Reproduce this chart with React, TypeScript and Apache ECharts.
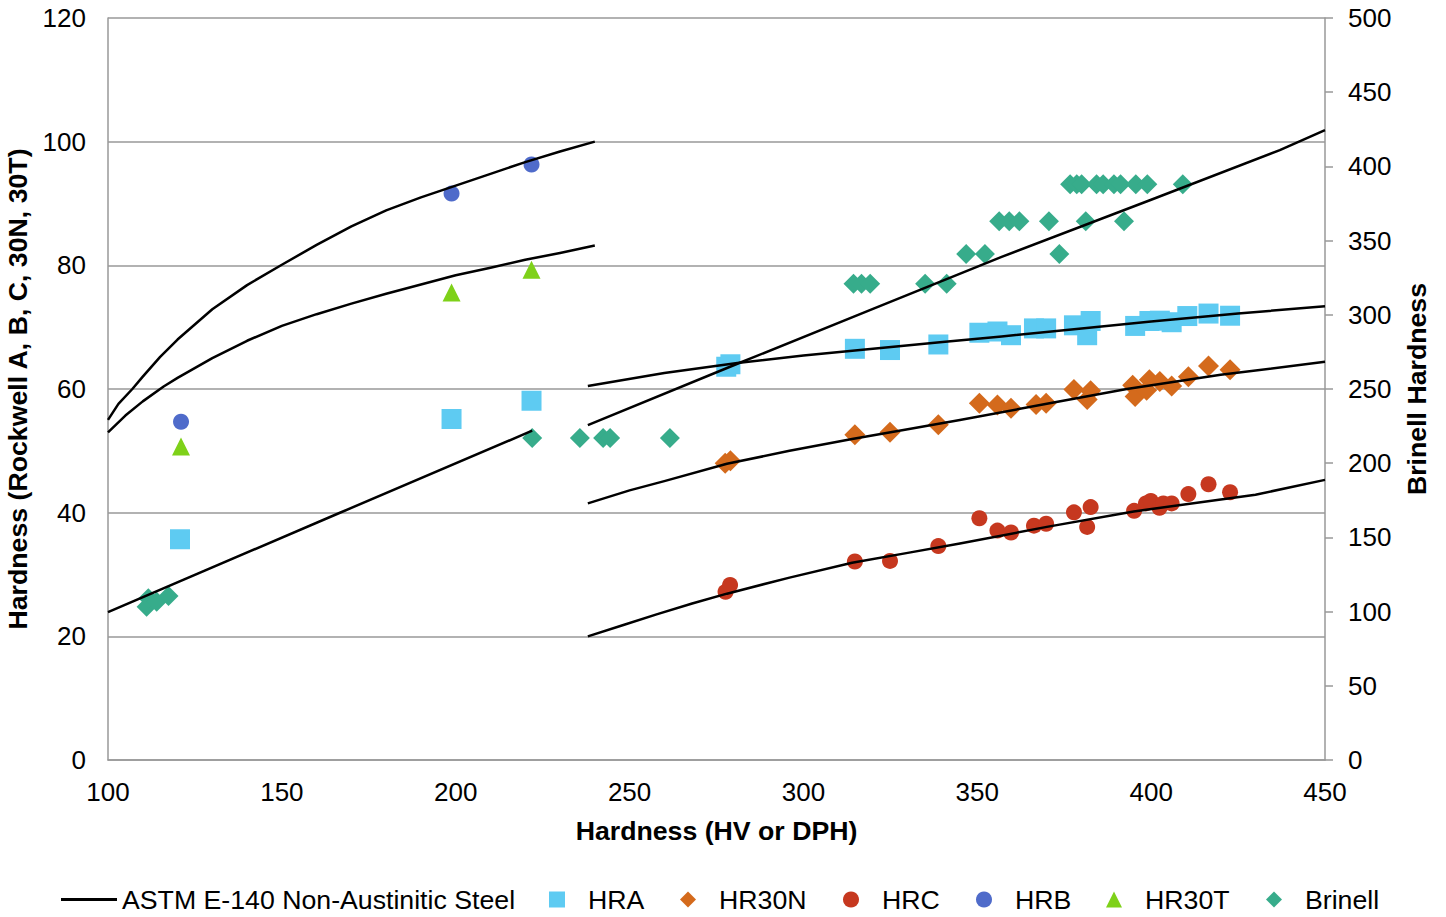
import React, { useEffect, useRef } from "react";
import * as echarts from "echarts";

// ---- Axis ticks ----
const xMin = 100, xMax = 450, xStep = 50;
const leftMin = 0, leftMax = 120, leftStep = 20;
const rightMin = 0, rightMax = 500, rightStep = 50;

// ---- Scatter data (HV vs value) ----
const hraHV = [120.7, 198.8, 221.8, 277.8, 279, 314.8, 324.9, 338.8, 350.6, 355.8, 359.7, 366.3, 369.8, 377.8, 382.6, 381.6, 395.4, 399.5, 402.5, 405.9, 410.4, 416.5, 422.7];
const hraValues = [35.7, 55.15, 58.1, 63.6, 64.0, 66.5, 66.3, 67.2, 69.1, 69.3, 68.7, 69.8, 69.8, 70.3, 71.0, 68.7, 70.2, 71.0, 71.05, 70.8, 71.8, 72.2, 71.85];

const hr30nHV = [277.5, 279, 314.8, 324.9, 338.8, 350.6, 355.8, 359.7, 366.9, 369.8, 377.8, 382.6, 381.6, 394.7, 395.4, 399.5, 398.7, 402.5, 405.9, 410.7, 416.5, 422.7];
const hr30nValues = [48.0, 48.4, 52.6, 53.0, 54.2, 57.7, 57.4, 56.9, 57.5, 57.7, 59.9, 59.7, 58.3, 60.6, 58.8, 61.5, 59.8, 61.2, 60.5, 62.0, 63.7, 63.1];

const hrcHV = [277.6, 278.9, 314.8, 324.9, 338.8, 350.6, 355.8, 359.7, 366.3, 369.8, 377.8, 382.6, 381.6, 395.1, 398.5, 399.9, 402.4, 403.5, 405.9, 410.7, 416.5, 422.7];
const hrcValues = [27.2, 28.3, 32.1, 32.2, 34.6, 39.1, 37.1, 36.8, 37.9, 38.2, 40.05, 40.9, 37.7, 40.3, 41.5, 41.9, 40.8, 41.5, 41.5, 43.0, 44.6, 43.3];

const hrbHV = [121, 198.8, 221.8];
const hrbValues = [54.7, 91.6, 96.3];

const hr30tHV = [121, 198.8, 221.8];
const hr30tValues = [50.7, 75.6, 79.3];

const brinellHV = [111.1, 111.6, 114.0, 117.4, 222.0, 235.7, 242.4, 244.4, 261.6, 314.4, 316.7, 319.2, 335.0, 341.2, 346.8, 352.2, 356.3, 359.2, 362.1, 370.6, 373.6, 381.2, 392.2, 376.7, 378.6, 380.0, 384.3, 386.2, 389.3, 391.2, 395.6, 398.9, 409.1];
const brinellValues = [103.3, 109, 106.7, 110.5, 217, 217, 217, 217, 217, 321, 321, 321, 321, 321, 341, 341, 363, 363, 363, 363, 341, 363, 363, 388, 388, 388, 388, 388, 388, 388, 388, 388, 388];

// ---- ASTM E-140 curves ----
const curveHrbHV = [100, 103, 107, 110, 115, 120, 130, 140, 150, 160, 170, 180, 190, 200, 210, 220, 230, 240];
const curveHrbValues = [55, 57.6, 60, 62, 65.2, 68, 72.9, 76.8, 80.1, 83.3, 86.3, 88.9, 91, 92.9, 94.8, 96.7, 98.4, 100];

const curveHr30tHV = [100, 105, 110, 116, 120, 130, 140, 150, 160, 170, 180, 190, 200, 210, 220, 230, 240];
const curveHr30tValues = [53, 55.7, 58, 60.4, 61.8, 65, 67.8, 70.2, 72.1, 73.8, 75.4, 76.9, 78.4, 79.6, 80.9, 82.0, 83.2];

const curveBrinellLowHV = [100, 166.7, 222];
const curveBrinellLowValues = [99.7, 166.6, 221.9];

const curveBrinellHighHV = [238, 281, 320, 357, 400, 437, 450];
const curveBrinellHighValues = [225.7, 267, 304, 339, 377.5, 411, 424.5];

const curveHraHV = [238, 260, 281, 300, 320, 340, 357, 380, 400, 425, 450];
const curveHraValues = [60.5, 62.6, 64.2, 65.4, 66.5, 67.6, 68.5, 69.8, 70.9, 72.2, 73.4];

const curveHr30nHV = [238, 250, 260, 278, 296, 314, 330, 345, 370, 393, 420, 450];
const curveHr30nValues = [41.5, 43.6, 45.1, 47.9, 50.0, 51.9, 53.5, 55.0, 57.6, 60.0, 62.3, 64.4];

const curveHrcHV = [238, 248, 258, 268, 278, 296, 314, 330, 345, 370, 395, 430, 450];
const curveHrcValues = [20, 21.8, 23.6, 25.3, 26.9, 29.5, 31.9, 33.5, 35, 37.7, 40.2, 42.9, 45.3];

const LINE_NAME = "ASTM E-140 Non-Austinitic Steel";
const FONT = "'Liberation Sans', Arial, sans-serif";
const GRAY = "#999999";

const zip = (xs: number[], ys: number[]) => xs.map((x, i) => [x, ys[i]]);

export default function App() {
  const ref = useRef<HTMLDivElement>(null);
  useEffect(() => {
    if (!ref.current) return;
    const chart = echarts.init(ref.current, undefined, { renderer: "svg" });

    const curves = [
      { hv: curveHrbHV, v: curveHrbValues, axis: 0 },
      { hv: curveHr30tHV, v: curveHr30tValues, axis: 0 },
      { hv: curveBrinellLowHV, v: curveBrinellLowValues, axis: 1 },
      { hv: curveBrinellHighHV, v: curveBrinellHighValues, axis: 1 },
      { hv: curveHraHV, v: curveHraValues, axis: 0 },
      { hv: curveHr30nHV, v: curveHr30nValues, axis: 0 },
      { hv: curveHrcHV, v: curveHrcValues, axis: 0 },
    ];

    const scatters = [
      { name: "HRA", hv: hraHV, v: hraValues, symbol: "rect", size: 20, color: "#5ECBF2", axis: 0 },
      { name: "HR30N", hv: hr30nHV, v: hr30nValues, symbol: "diamond", size: 21, color: "#D46A1C", axis: 0 },
      { name: "HRC", hv: hrcHV, v: hrcValues, symbol: "circle", size: 16, color: "#C6381F", axis: 0 },
      { name: "HRB", hv: hrbHV, v: hrbValues, symbol: "circle", size: 16, color: "#4F6BCA", axis: 0 },
      { name: "HR30T", hv: hr30tHV, v: hr30tValues, symbol: "triangle", size: 18, color: "#7ED119", axis: 0 },
      { name: "Brinell", hv: brinellHV, v: brinellValues, symbol: "diamond", size: 20, color: "#37AC8B", axis: 1 },
    ];

    const series: any[] = [];
    scatters.forEach((s) => {
      series.push({
        type: "scatter",
        name: s.name,
        yAxisIndex: s.axis,
        symbol: s.symbol,
        symbolSize: s.size,
        itemStyle: { color: s.color, opacity: 1 },
        data: zip(s.hv, s.v),
        z: 2,
      });
    });
    curves.forEach((c) => {
      series.push({
        type: "line",
        name: LINE_NAME,
        yAxisIndex: c.axis,
        showSymbol: false,
        symbol: "none",
        smooth: false,
        lineStyle: { color: "#000", width: 2.5, join: "round" },
        itemStyle: { color: "#000" },
        data: zip(c.hv, c.v),
        z: 3,
      });
    });

    const legendItems = [
      { name: LINE_NAME, left: 61, w: 56, h: 3, pad: 0, icon: "rect" },
      { name: "HRA", left: 549, w: 16, h: 16, pad: 18, icon: undefined },
      { name: "HR30N", left: 680, w: 16, h: 16, pad: 18, icon: undefined },
      { name: "HRC", left: 843, w: 16, h: 16, pad: 18, icon: undefined },
      { name: "HRB", left: 976, w: 16, h: 16, pad: 18, icon: undefined },
      { name: "HR30T", left: 1106, w: 16, h: 16, pad: 18, icon: undefined },
      { name: "Brinell", left: 1266, w: 16, h: 16, pad: 18, icon: undefined },
    ];

    const legend = legendItems.map((l) => ({
      data: [l.icon ? { name: l.name, icon: l.icon } : l.name],
      left: l.left,
      top: 886,
      itemWidth: l.w,
      itemHeight: l.h,
      padding: 0,
      selectedMode: false,
      textStyle: {
        fontFamily: FONT,
        fontSize: 26.7,
        color: "#000",
        padding: [0, 0, 0, l.pad],
      },
    }));

    const labelStyle = { fontFamily: FONT, fontSize: 26, color: "#000" };
    const nameStyle = { fontFamily: FONT, fontSize: 26.7, fontWeight: "bold" as const, color: "#000" };

    chart.setOption({
      animation: false,
      backgroundColor: "#fff",
      grid: { left: 108, right: 121, top: 18, bottom: 157, containLabel: false, outerBoundsMode: "none" },
      legend,
      xAxis: {
        type: "value",
        min: xMin,
        max: xMax,
        interval: xStep,
        name: "Hardness (HV or DPH)",
        nameLocation: "middle",
        nameGap: 57,
        nameTextStyle: nameStyle,
        axisLine: { show: true, lineStyle: { color: GRAY, width: 1.5 } },
        axisTick: { show: false },
        splitLine: { show: false },
        axisLabel: { ...labelStyle, margin: 19 },
      },
      yAxis: [
        {
          type: "value",
          min: leftMin,
          max: leftMax,
          interval: leftStep,
          name: "Hardness (Rockwell A, B, C, 30N, 30T)",
          nameLocation: "middle",
          nameGap: 77,
          nameRotate: 90,
          nameTextStyle: nameStyle,
          axisLine: { show: true, lineStyle: { color: GRAY, width: 1.5 } },
          axisTick: { show: false },
          splitLine: { show: true, lineStyle: { color: GRAY, width: 1.5 } },
          axisLabel: { ...labelStyle, margin: 22 },
        },
        {
          type: "value",
          position: "right",
          min: rightMin,
          max: rightMax,
          interval: rightStep,
          name: "Brinell Hardness",
          nameLocation: "middle",
          nameGap: 78,
          nameRotate: 90,
          nameTextStyle: nameStyle,
          axisLine: { show: true, lineStyle: { color: GRAY, width: 1.5 } },
          axisTick: { show: true, inside: false, length: 8, lineStyle: { color: GRAY, width: 1.5 } },
          splitLine: { show: false },
          axisLabel: { ...labelStyle, margin: 23 },
        },
      ],
      series,
    });
    return () => chart.dispose();
  }, []);

  return (
    <div
      ref={ref}
      style={{ position: "fixed", left: 0, top: 0, width: 1446, height: 917, background: "#fff" }}
    />
  );
}
